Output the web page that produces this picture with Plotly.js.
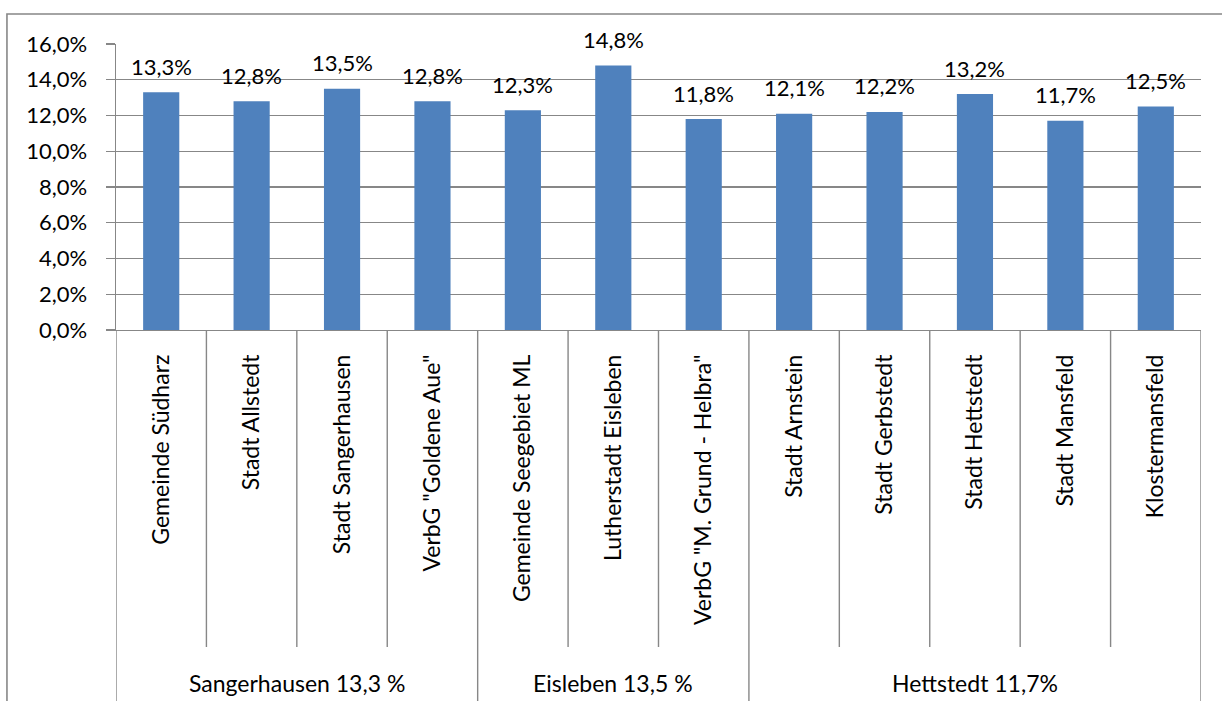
<!DOCTYPE html>
<html>
<head>
<meta charset="utf-8">
<script src="https://cdn.plot.ly/plotly-3.0.1.min.js"></script>
<style>html,body{margin:0;padding:0;background:#fff;}#chart{width:1222px;height:701px;}</style>
</head>
<body>
<div id="chart"></div>
<script>
const categories = ['Gemeinde Südharz','Stadt Allstedt','Stadt Sangerhausen','VerbG "Goldene Aue"','Gemeinde Seegebiet ML','Lutherstadt Eisleben','VerbG "M. Grund - Helbra"','Stadt Arnstein','Stadt Gerbstedt','Stadt Hettstedt','Stadt Mansfeld','Klostermansfeld'];
const values = [13.3, 12.8, 13.5, 12.8, 12.3, 14.8, 11.8, 12.1, 12.2, 13.2, 11.7, 12.5];
const groupLabels = ['Sangerhausen 13,3 %', 'Eisleben 13,5 %', 'Hettstedt 11,7%'];
const groupSizes = [4, 3, 5];
const yTicks = [0, 2, 4, 6, 8, 10, 12, 14, 16];
const yTickLabels = ['0,0%', '2,0%', '4,0%', '6,0%', '8,0%', '10,0%', '12,0%', '14,0%', '16,0%'];

const FONT = 'Lato, "Open Sans", sans-serif';
const GRID = '#878787';
const idx = categories.map((c, i) => i);

const trace = {
  type: 'bar',
  x: idx,
  y: values,
  marker: {color: '#4F81BD'},
  hoverinfo: 'none'
};

const shapes = [];
const groupBounds = [0];
groupSizes.forEach(s => groupBounds.push(groupBounds[groupBounds.length - 1] + s));
for (let k = 0; k <= categories.length; k++) {
  const isGroup = groupBounds.includes(k);
  shapes.push({
    type: 'line', xref: 'x', yref: 'paper',
    x0: k - 0.5, x1: k - 0.5, y0: 0, y1: isGroup ? -1.35 : -1.108,
    line: {color: GRID, width: 1.4}
  });
}
shapes.push({
  type: 'path', xref: 'paper', yref: 'paper',
  path: 'M -0.1005,-1.4 L -0.1005,1.105 L 1.1,1.105',
  line: {color: GRID, width: 1.6}
});

const annotations = values.map((v, i) => ({
  x: i, y: v, xref: 'x', yref: 'y',
  text: v.toFixed(1).replace('.', ',') + '%',
  showarrow: false, yshift: 26,
  font: {family: FONT, size: 22, color: '#000'}
}));
let start = 0;
groupLabels.forEach((g, j) => {
  const mid = start + groupSizes[j] / 2 - 0.5;
  annotations.push({
    x: mid, y: -1.234, xref: 'x', yref: 'paper',
    text: g, showarrow: false, yanchor: 'middle',
    font: {family: FONT, size: 23, color: '#000'}
  });
  start += groupSizes[j];
});

const layout = {
  width: 1222, height: 701,
  margin: {l: 116, r: 21, t: 44, b: 371, pad: 0},
  paper_bgcolor: '#fff', plot_bgcolor: '#fff',
  showlegend: false,
  bargap: 0.6,
  font: {family: FONT, size: 22, color: '#000'},
  xaxis: {
    type: 'linear', range: [-0.5, categories.length - 0.5],
    tickmode: 'array', tickvals: idx, ticktext: categories,
    tickangle: -90, ticks: '', showgrid: false, zeroline: false,
    showline: true, linecolor: GRID, linewidth: 1.4,
    ticklabelstandoff: 14,
    tickfont: {family: FONT, size: 23, color: '#000'}
  },
  yaxis: {
    range: [0, 16], tickmode: 'array', tickvals: yTicks, ticktext: yTickLabels,
    ticks: 'outside', ticklen: 9, tickcolor: GRID, tickwidth: 1.4,
    showgrid: true, gridcolor: GRID, gridwidth: 1.4,
    showline: true, linecolor: GRID, linewidth: 1.4, zeroline: false,
    ticklabelstandoff: 14,
    tickfont: {family: FONT, size: 22, color: '#000'}
  },
  shapes: shapes,
  annotations: annotations
};

Plotly.newPlot('chart', [trace], layout, {displayModeBar: false, staticPlot: true});
</script>
</body>
</html>
